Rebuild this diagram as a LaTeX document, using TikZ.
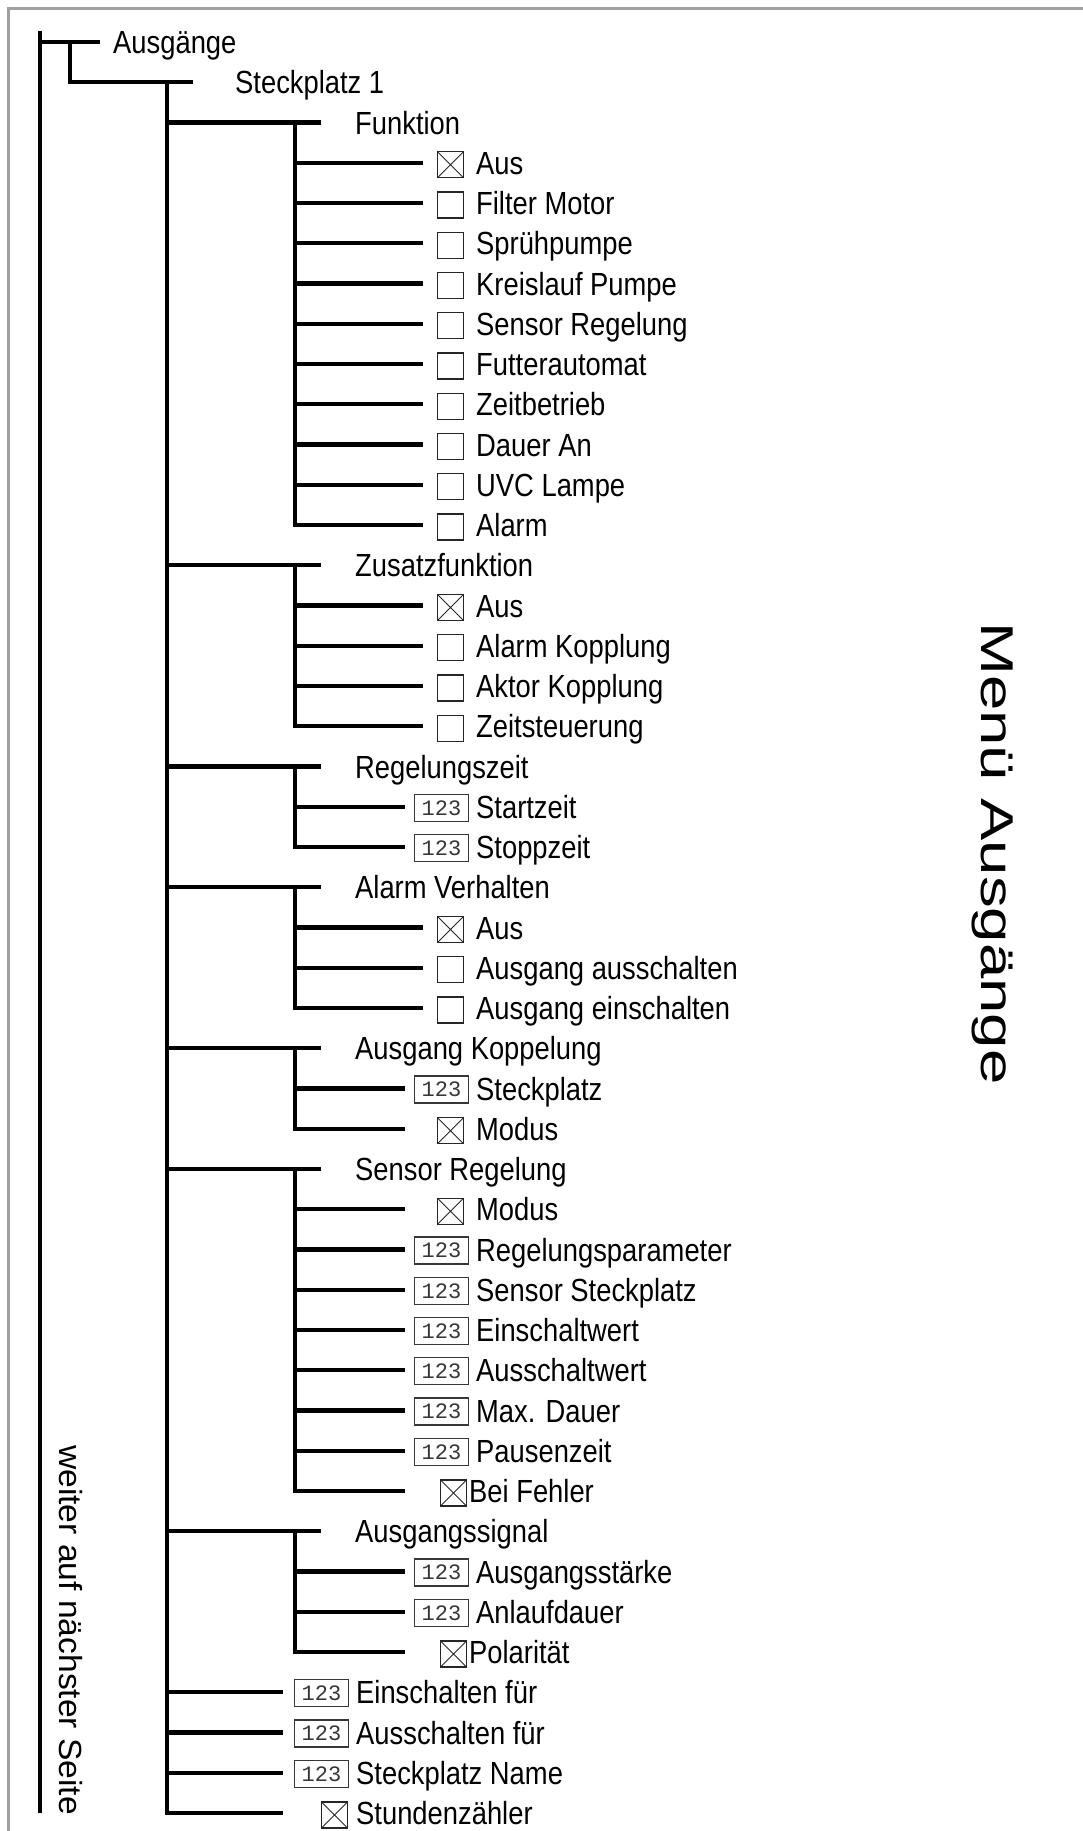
\documentclass[tikz,border=0pt]{standalone}
\usepackage{fontspec}
\setmainfont{Liberation Sans}
\newfontfamily\monof{Liberation Mono}
\usepackage{graphicx}
\definecolor{framegray}{RGB}{160,160,160}
\definecolor{boxgray}{RGB}{55,55,55}
\tikzset{
  tree/.style={line width=4.4pt, black},
  framel/.style={line width=3pt, framegray},
  lbl/.style={anchor=base west, inner sep=0pt, font=\fontsize{32}{32}\selectfont},
  chk/.style={draw=black!85, line width=1.3pt, minimum size=26pt, inner sep=0pt},
  chkx/.style={chk, path picture={\draw[line width=1pt,black!85] (path picture bounding box.north west) -- (path picture bounding box.south east) (path picture bounding box.north east) -- (path picture bounding box.south west);}},
  num/.style={draw=boxgray, line width=1.2pt, minimum width=54pt, minimum height=27pt, inner sep=0pt, font=\monof\fontsize{22}{22}\selectfont, text=boxgray},
}
\newcommand\Tx[1]{\scalebox{0.855}[1]{#1}}
% checkbox leaf: id, y, style, line end x, box x, text x, text
\newcommand\cleaf[7]{%
  \coordinate (e#1) at (#4,#2);
  \node[#3] (b#1) at (#5,#2+2) {};
  \node[lbl] (t#1) at (#6,#2+11.5) {\Tx{#7}};}
% number leaf: id, y, line end x, box x, text x, text
\newcommand\nleaf[6]{%
  \coordinate (e#1) at (#3,#2);
  \node[num] (b#1) at (#4,#2+1) {123};
  \node[lbl] (t#1) at (#5,#2+11.5) {\Tx{#6}};}
% header: id, y, text
\newcommand\head[3]{%
  \coordinate (e#1) at (321,#2);
  \coordinate (h#1) at (295,#2);
  \node[lbl] (t#1) at (355,#2+11.5) {\Tx{#3}};}
\begin{document}
\begin{tikzpicture}[x=1pt,y=-1pt]
\useasboundingbox (0,0) rectangle (1083,1831);
% frame
\coordinate (fTL) at (8,8);
\coordinate (fTR) at (1083,8);
\coordinate (fBL) at (8,1831);
\draw[framel] (fTR) -- (fTL) -- (fBL);

% side texts
\node[rotate=-90, anchor=base west, inner sep=0pt, font=\fontsize{46}{46}\selectfont] (menu) at (981,622) {\scalebox{1.38}[1]{Menü Ausgänge}};
\node[rotate=-90, anchor=base west, inner sep=0pt, font=\fontsize{32}{32}\selectfont] (weiter) at (59,1445) {\scalebox{1.05}[1]{weiter auf nächster Seite}};

% level 0 and 1
\coordinate (v0) at (40,31);
\coordinate (vEnd) at (40,1813);
\coordinate (j0) at (40,42);
\coordinate (e0) at (100,42);
\node[lbl] (t0) at (113,53.5) {\Tx{Ausgänge}};
\coordinate (h0) at (70,42);
\coordinate (e1) at (193,82.25);
\node[lbl] (t1) at (235,93.75) {\Tx{Steckplatz 1}};
\coordinate (h1) at (167,81);

% headers
\head{2}{122.5}{Funktion}
\head{13}{565.25}{Zusatzfunktion}
\head{18}{766.5}{Regelungszeit}
\head{21}{887.25}{Alarm Verhalten}
\head{25}{1048.25}{Ausgang Koppelung}
\head{28}{1169}{Sensor Regelung}
\head{37}{1531.25}{Ausgangssignal}

% Funktion
\cleaf{3}{162.75}{chkx}{423}{450.5}{476}{Aus}
\cleaf{4}{203}{chk}{423}{450.5}{476}{Filter Motor}
\cleaf{5}{243.25}{chk}{423}{450.5}{476}{Sprühpumpe}
\cleaf{6}{283.5}{chk}{423}{450.5}{476}{Kreislauf Pumpe}
\cleaf{7}{323.75}{chk}{423}{450.5}{476}{Sensor Regelung}
\cleaf{8}{364}{chk}{423}{450.5}{476}{Futterautomat}
\cleaf{9}{404.25}{chk}{423}{450.5}{476}{Zeitbetrieb}
\cleaf{10}{444.5}{chk}{423}{450.5}{476}{Dauer An}
\cleaf{11}{484.75}{chk}{423}{450.5}{476}{UVC Lampe}
\cleaf{12}{525}{chk}{423}{450.5}{476}{Alarm}
% Zusatzfunktion
\cleaf{14}{605.5}{chkx}{423}{450.5}{476}{Aus}
\cleaf{15}{645.75}{chk}{423}{450.5}{476}{Alarm Kopplung}
\cleaf{16}{686}{chk}{423}{450.5}{476}{Aktor Kopplung}
\cleaf{17}{726.25}{chk}{423}{450.5}{476}{Zeitsteuerung}
% Regelungszeit
\nleaf{19}{806.75}{405}{441.5}{476}{Startzeit}
\nleaf{20}{847}{405}{441.5}{476}{Stoppzeit}
% Alarm Verhalten
\cleaf{22}{927.5}{chkx}{423}{450.5}{476}{Aus}
\cleaf{23}{967.75}{chk}{423}{450.5}{476}{Ausgang ausschalten}
\cleaf{24}{1008}{chk}{423}{450.5}{476}{Ausgang einschalten}
% Ausgang Koppelung
\nleaf{26}{1088.5}{405}{441.5}{476}{Steckplatz}
\cleaf{27}{1128.75}{chkx}{405}{450.5}{476}{Modus}
% Sensor Regelung
\cleaf{29}{1209.25}{chkx}{405}{450.5}{476}{Modus}
\nleaf{30}{1249.5}{405}{441.5}{476}{Regelungsparameter}
\nleaf{31}{1289.75}{405}{441.5}{476}{Sensor Steckplatz}
\nleaf{32}{1330}{405}{441.5}{476}{Einschaltwert}
\nleaf{33}{1370.25}{405}{441.5}{476}{Ausschaltwert}
\nleaf{34}{1410.5}{405}{441.5}{476}{Max. Dauer}
\nleaf{35}{1450.75}{405}{441.5}{476}{Pausenzeit}
\cleaf{36}{1491}{chkx}{405}{453.5}{469}{Bei Fehler}
% Ausgangssignal
\nleaf{38}{1571.5}{405}{441.5}{476}{Ausgangsstärke}
\nleaf{39}{1611.75}{405}{441.5}{476}{Anlaufdauer}
\cleaf{40}{1652}{chkx}{405}{453.5}{469}{Polarität}
% direct items
\nleaf{41}{1692.25}{283}{321.5}{356}{Einschalten für}
\nleaf{42}{1732.5}{283}{321.5}{356}{Ausschalten für}
\nleaf{43}{1772.75}{283}{321.5}{356}{Steckplatz Name}
\cleaf{44}{1813}{chkx}{283}{334.5}{356}{Stundenzähler}

% connectors
\draw[tree] (v0) -- (vEnd);
\draw[tree] (j0) -- (e0);
\draw[tree] (h0) |- (e1);
\foreach \k in {2,13,18,21,25,28,37,41,42,43,44} {\draw[tree] (h1) |- (e\k);}
\foreach \k in {3,...,12} {\draw[tree] (h2) |- (e\k);}
\foreach \k in {14,...,17} {\draw[tree] (h13) |- (e\k);}
\foreach \k in {19,20} {\draw[tree] (h18) |- (e\k);}
\foreach \k in {22,23,24} {\draw[tree] (h21) |- (e\k);}
\foreach \k in {26,27} {\draw[tree] (h25) |- (e\k);}
\foreach \k in {29,...,36} {\draw[tree] (h28) |- (e\k);}
\foreach \k in {38,39,40} {\draw[tree] (h37) |- (e\k);}
\end{tikzpicture}
\end{document}
